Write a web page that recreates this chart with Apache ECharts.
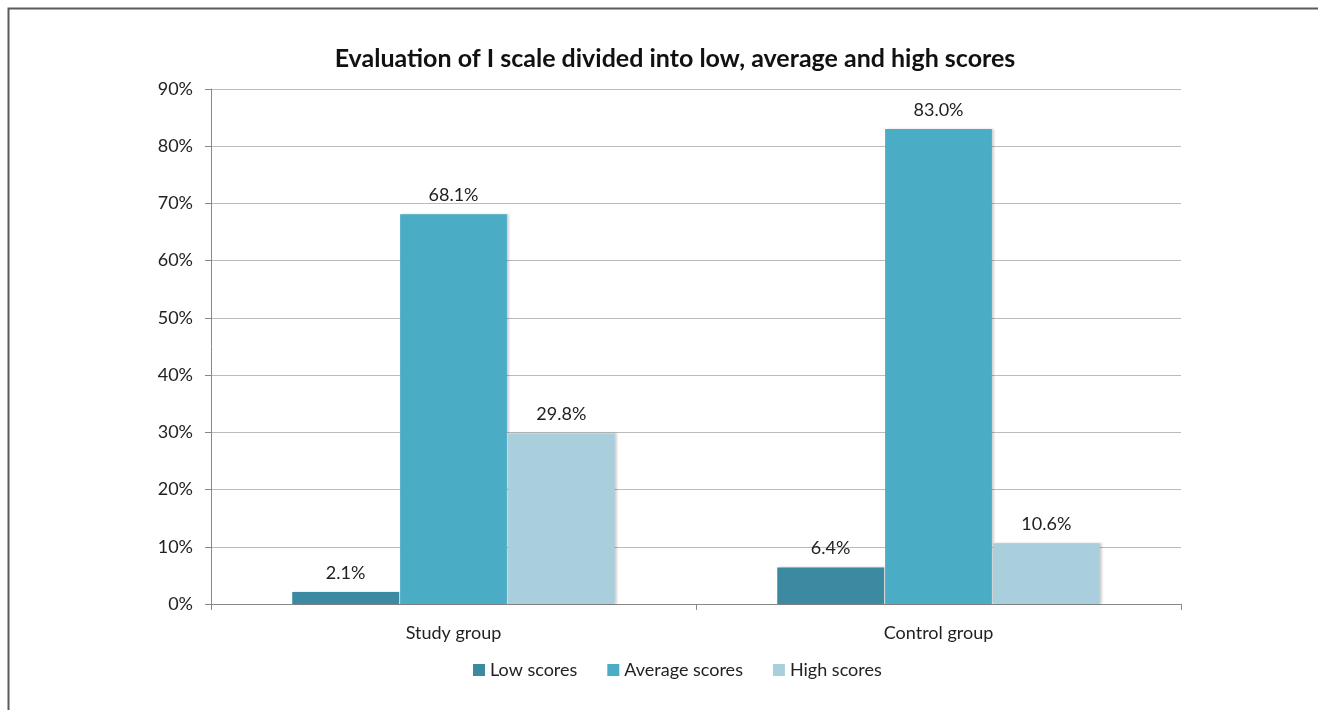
<!DOCTYPE html>
<html>
<head>
<meta charset="utf-8">
<script src="https://cdn.jsdelivr.net/npm/echarts@6/dist/echarts.min.js"></script>
<style>
  html, body { margin: 0; padding: 0; background: #fff; overflow: hidden; }
  #chart { width: 1318px; height: 710px; }
</style>
</head>
<body>
<div id="chart"></div>
<script>
// Share of respondents (%) per score band, by group
const groups = ['Study group', 'Control group'];
const lowScores = [2.1, 6.4];
const averageScores = [68.1, 83.0];
const highScores = [29.8, 10.6];
const seriesNames = ['Low scores', 'Average scores', 'High scores'];
const seriesColors = ['#3b8aa1', '#4bacc6', '#a9cfdd'];

const FONT = 'Lato, "Open Sans", sans-serif';

function makeSeries(name, values, color) {
  return {
    name: name,
    type: 'bar',
    data: values,
    barGap: '1%',
    barCategoryGap: '33.5%',
    itemStyle: {
      color: color,
      shadowColor: 'rgba(0,0,0,0.18)',
      shadowBlur: 2,
      shadowOffsetX: 2,
      shadowOffsetY: 0
    },
    label: {
      show: true,
      position: 'top',
      distance: 10,
      color: '#222',
      fontFamily: FONT,
      fontSize: 18,
      formatter: p => p.value.toFixed(1) + '%'
    }
  };
}

const chart = echarts.init(document.getElementById('chart'), null, { renderer: 'canvas' });
chart.setOption({
  backgroundColor: '#fff',
  animation: false,
  // frame along the top and left edges of the drawing
  graphic: [{
    type: 'polyline',
    shape: { points: [[8.5, 720], [8.5, 8.5], [1330, 8.5]] },
    style: { fill: 'none', stroke: '#5a5a5a', lineWidth: 2 },
    silent: true
  }],
  title: {
    text: 'Evaluation of I scale divided into low, average and high scores',
    left: 670,
    textAlign: 'center',
    top: 41,
    textStyle: { fontFamily: FONT, fontSize: 25, fontWeight: 'bold', color: '#111' }
  },
  legend: {
    bottom: 26,
    left: 468,
    itemWidth: 12,
    itemHeight: 12,
    itemGap: 30,
    icon: 'rect',
    textStyle: { fontFamily: FONT, fontSize: 18, color: '#222' },
    data: seriesNames
  },
  grid: { left: 211, right: 137, top: 89, bottom: 106 },
  xAxis: {
    type: 'category',
    data: groups,
    axisLine: { lineStyle: { color: '#888', width: 1 } },
    axisTick: { show: true, length: 6, lineStyle: { color: '#888' } },
    axisLabel: { fontFamily: FONT, fontSize: 18, color: '#222', margin: 20 },
    splitLine: { show: false }
  },
  yAxis: {
    type: 'value',
    min: 0,
    max: 90,
    interval: 10,
    axisLine: { show: true, lineStyle: { color: '#888', width: 1 } },
    axisTick: { show: true, length: 6, lineStyle: { color: '#888' } },
    axisLabel: { fontFamily: FONT, fontSize: 18, color: '#222', margin: 18, formatter: '{value}%' },
    splitLine: { lineStyle: { color: '#bbbbbb', width: 1 } }
  },
  series: [
    makeSeries(seriesNames[0], lowScores, seriesColors[0]),
    makeSeries(seriesNames[1], averageScores, seriesColors[1]),
    makeSeries(seriesNames[2], highScores, seriesColors[2])
  ]
});
</script>
</body>
</html>
